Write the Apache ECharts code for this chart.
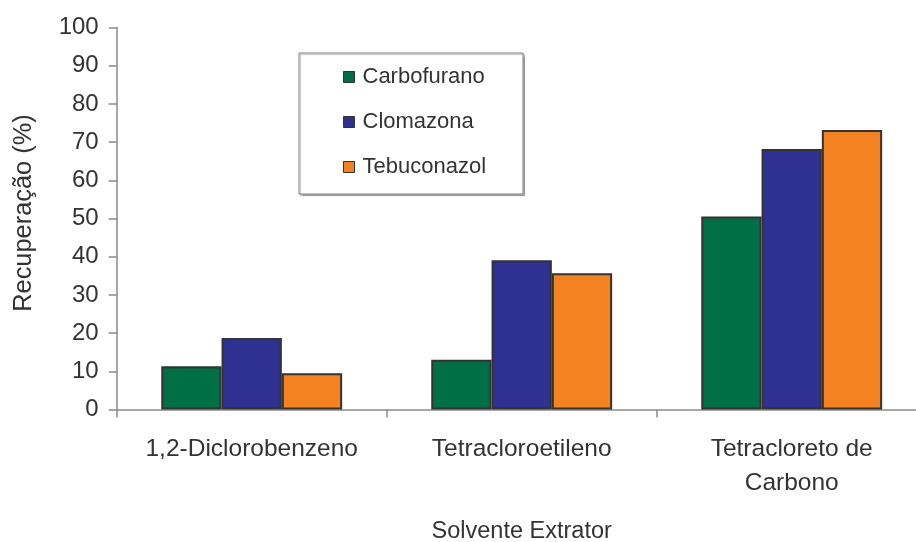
<!DOCTYPE html>
<html>
<head>
<meta charset="utf-8">
<script src="https://cdn.jsdelivr.net/npm/echarts@6/dist/echarts.min.js"></script>
<style>
  html, body { margin: 0; padding: 0; background: #fff; }
  #chart { width: 916px; height: 542px; }
</style>
</head>
<body>
<div id="chart"></div>
<script>
// Solvent recovery (%) per pesticide
const solventes = ['1,2-Diclorobenzeno', 'Tetracloroetileno', 'Tetracloreto de\nCarbono'];
const carbofurano = [11.3, 13.0, 50.5];
const clomazona = [18.7, 39.1, 68.2];
const tebuconazol = [9.5, 35.7, 73.2];
const yTicks = [0, 10, 20, 30, 40, 50, 60, 70, 80, 90, 100];

const FONT = '"Liberation Sans", Arial, Helvetica, sans-serif';
const TEXT = '#333333';
const AXIS = '#8a8a8a';
const EDGE = '#333333';

const chart = echarts.init(document.getElementById('chart'), null, { renderer: 'canvas' });

function barSeries(name, data, color) {
  return {
    name: name,
    type: 'bar',
    data: data,
    barGap: '0%',
    barCategoryGap: '33%',
    itemStyle: { color: color, borderColor: EDGE, borderWidth: 2 },
    emphasis: { disabled: true }
  };
}

chart.setOption({
  animation: false,
  backgroundColor: '#ffffff',
  textStyle: { fontFamily: FONT, color: TEXT },
  grid: {
    left: 116.7, width: 810, top: 27.5, bottom: 132.5,
    containLabel: false, outerBoundsMode: 'none'
  },
  graphic: [{
    type: 'rect',
    shape: { x: 299, y: 53, width: 224, height: 141 },
    style: {
      fill: '#ffffff', stroke: '#7a7a7a', lineWidth: 1,
      shadowColor: 'rgba(0,0,0,0.25)', shadowOffsetX: 1.5, shadowOffsetY: 1.5, shadowBlur: 1
    },
    z: 5
  }],
  legend: {
    orient: 'vertical',
    left: 343,
    top: 66,
    padding: 0,
    itemWidth: 11,
    itemHeight: 11,
    itemGap: 23,
    icon: 'rect',
    selectedMode: false,
    z: 10,
    itemStyle: { borderColor: EDGE, borderWidth: 1 },
    textStyle: { fontFamily: FONT, fontSize: 22, color: TEXT, padding: [0, 0, 0, 3], height: 22, lineHeight: 22 },
    data: ['Carbofurano', 'Clomazona', 'Tebuconazol']
  },
  xAxis: {
    type: 'category',
    data: solventes,
    name: 'Solvente Extrator',
    nameLocation: 'middle',
    nameGap: 110,
    nameTextStyle: { fontFamily: FONT, fontSize: 23.5, color: TEXT },
    axisLine: { show: true, lineStyle: { color: AXIS, width: 1.5 } },
    axisTick: { show: true, length: 8, lineStyle: { color: AXIS, width: 1.5 } },
    axisLabel: { fontFamily: FONT, fontSize: 24.5, color: TEXT, margin: 23, lineHeight: 34, interval: 0 },
    splitLine: { show: false }
  },
  yAxis: {
    type: 'value',
    min: yTicks[0],
    max: yTicks[yTicks.length - 1],
    interval: 10,
    name: 'Recuperação (%)',
    nameLocation: 'middle',
    nameGap: 80,
    nameTextStyle: { fontFamily: FONT, fontSize: 25.4, color: TEXT, padding: [0, 0, 0, 11] },
    axisLine: { show: true, lineStyle: { color: AXIS, width: 1.5 } },
    axisTick: { show: true, length: 8, lineStyle: { color: AXIS, width: 1.5 } },
    axisLabel: { fontFamily: FONT, fontSize: 24, color: TEXT, margin: 18 },
    splitLine: { show: false }
  },
  series: [
    barSeries('Carbofurano', carbofurano, '#006f45'),
    barSeries('Clomazona', clomazona, '#2e3192'),
    barSeries('Tebuconazol', tebuconazol, '#f58220')
  ]
});
</script>
</body>
</html>
